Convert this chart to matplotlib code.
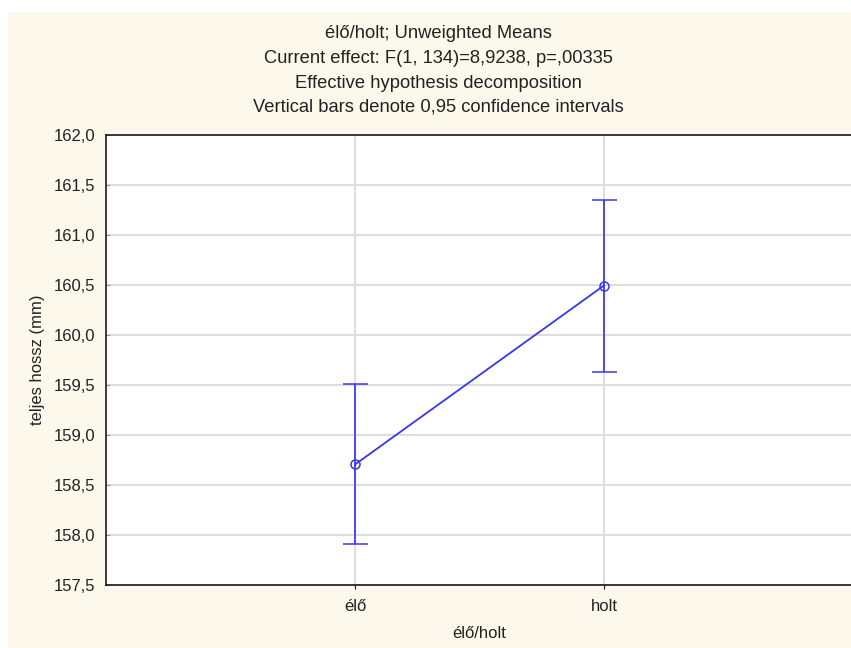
import matplotlib
matplotlib.use("Agg")
import matplotlib.pyplot as plt
from matplotlib.patches import Rectangle
from matplotlib.ticker import FuncFormatter

plt.rcParams['font.family'] = ['Liberation Sans', 'DejaVu Sans']

# Group means of total length with 95% confidence limits
groups = ["élő", "holt"]
means = [158.705, 160.495]
ci_lower = [157.91, 159.63]
ci_upper = [159.51, 161.355]

title_lines = [
    "élő/holt; Unweighted Means",
    "Current effect: F(1, 134)=8,9238, p=,00335",
    "Effective hypothesis decomposition",
    "Vertical bars denote 0,95 confidence intervals",
]
y_ticks = [157.5, 158.0, 158.5, 159.0, 159.5, 160.0, 160.5, 161.0, 161.5, 162.0]

W, H = 851, 648
fig = plt.figure(figsize=(W / 100, H / 100), dpi=100)
fig.patch.set_facecolor("white")

# cream panel behind the chart
fig.patches.append(Rectangle((8 / W, 0), 1, (H - 12) / H, transform=fig.transFigure,
                             facecolor="#fdf8ec", edgecolor="none", zorder=-5))

ax = fig.add_axes([106 / W, (H - 585) / H, (853 - 106) / W, (585 - 135) / H])
ax.set_zorder(1)
ax.set_facecolor("white")

xs = list(range(1, len(groups) + 1))
err_lo = [m - lo for m, lo in zip(means, ci_lower)]
err_hi = [hi - m for m, hi in zip(means, ci_upper)]
blue = "#3636f2"
ax.errorbar(xs, means, yerr=[err_lo, err_hi], color=blue, ecolor=blue,
            elinewidth=1.25, capsize=9, capthick=1.25, linewidth=1.3,
            marker="o", markersize=6.5, markerfacecolor="none",
            markeredgecolor=blue, markeredgewidth=1.1, zorder=3)

ax.set_xlim(0, len(groups) + 1)
ax.set_ylim(y_ticks[0], y_ticks[-1])
ax.set_yticks(y_ticks)
ax.yaxis.set_major_formatter(FuncFormatter(lambda v, p: f"{v:.1f}".replace(".", ",")))
ax.set_xticks(xs)
ax.set_xticklabels(groups)

ax.grid(True, color="#dddddd", linewidth=1.4, zorder=0)
ax.set_axisbelow(True)

for side in ("left", "top", "bottom"):
    ax.spines[side].set_color("#1a1a1a")
    ax.spines[side].set_linewidth(1.2)
ax.spines["right"].set_visible(False)

ax.tick_params(axis="y", direction="in", length=3, color="#999999",
               labelsize=12, labelcolor="#222222", pad=8)
ax.tick_params(axis="x", direction="out", length=3, color="#1a1a1a",
               labelsize=12, labelcolor="#222222", pad=7)

ax.set_ylabel("teljes hossz (mm)", fontsize=12, color="#222222", labelpad=6)
ax.set_xlabel("élő/holt", fontsize=12, color="#222222", labelpad=9)

for i, line in enumerate(title_lines):
    fig.text(438 / W, 1 - (34 + 24.5 * i) / H, line, ha="center", va="center",
             fontsize=13.2, color="#222222")

fig.savefig("out.png", dpi=100, facecolor=fig.get_facecolor())
